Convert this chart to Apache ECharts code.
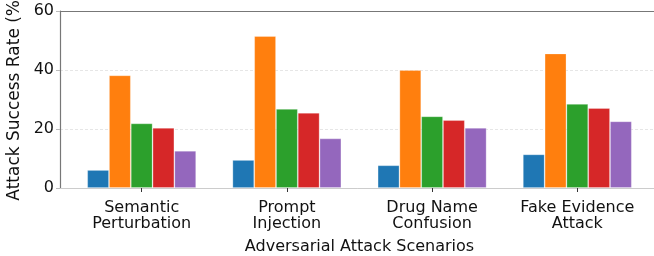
<!DOCTYPE html>
<html>
<head>
<meta charset="utf-8">
<script src="https://cdn.jsdelivr.net/npm/echarts@6/dist/echarts.min.js"></script>
<style>html,body{margin:0;padding:0;background:#fff;}#c{width:654px;height:256px;}</style>
</head>
<body>
<div id="c"></div>
<script>
const categories = ['Semantic\nPerturbation', 'Prompt\nInjection', 'Drug Name\nConfusion', 'Fake Evidence\nAttack'];
const seriesA = [6.1, 9.5, 7.7, 11.4];
const seriesB = [38.2, 51.5, 40.0, 45.6];
const seriesC = [21.9, 26.8, 24.3, 28.5];
const seriesD = [20.4, 25.5, 23.0, 27.1];
const seriesE = [12.6, 16.8, 20.4, 22.6];
const yTicks = [0, 20, 40, 60];
const colors = ['#1f77b4', '#ff7f0e', '#2ca02c', '#d62728', '#9467bd'];
const allSeries = [seriesA, seriesB, seriesC, seriesD, seriesE];
const catIdx = categories.map((_, i) => i);
const font = 'DejaVu Sans';

const chart = echarts.init(document.getElementById('c'), null, {renderer: 'canvas'});
chart.setOption({
  animation: false,
  textStyle: {fontFamily: font},
  grid: {left: 60, top: 11, right: -5, bottom: 68, containLabel: false, outerBoundsMode: 'none'},
  xAxis: [{
    type: 'value', min: -0.5625, max: 3.5625, position: 'bottom',
    axisLine: {show: true, onZero: false, lineStyle: {color: '#cccccc', width: 1}},
    axisTick: {show: true, customValues: catIdx, length: 4, lineStyle: {color: '#333'}},
    axisLabel: {show: true, customValues: catIdx, formatter: v => categories[Math.round(v)],
      fontSize: 16, color: '#111', lineHeight: 16, margin: 12, fontFamily: font},
    splitLine: {show: false},
    name: 'Adversarial Attack Scenarios', nameLocation: 'middle', nameGap: 51,
    nameTextStyle: {fontSize: 16, color: '#111', fontFamily: font}
  }, {
    type: 'value', min: -0.5625, max: 3.5625, position: 'top',
    axisLine: {show: true, onZero: false, lineStyle: {color: '#777', width: 1.2}},
    axisTick: {show: false}, axisLabel: {show: false}, splitLine: {show: false}
  }],
  yAxis: {
    type: 'value', min: 0, max: 60, interval: 20,
    axisLine: {show: true, onZero: false, lineStyle: {color: '#777', width: 1.2}},
    axisTick: {show: true, length: 4, lineStyle: {color: '#bbb'}},
    axisLabel: {fontSize: 16, color: '#111', margin: 6, fontFamily: font,
      customValues: yTicks},
    splitLine: {show: true, lineStyle: {color: '#e6e6e6', type: [3, 2], width: 1}},
    name: 'Attack Success Rate (%)', nameLocation: 'middle', nameGap: 29,
    nameTextStyle: {fontSize: 17, color: '#111', fontFamily: font, padding: [0, 0, 0, 5]}
  },
  series: allSeries.map((vals, s) => ({
    type: 'bar',
    xAxisIndex: 0,
    data: vals.map((v, i) => [catIdx[i], v]),
    barGap: '0%',
    barCategoryGap: '25%',
    itemStyle: {color: colors[s], borderColor: 'rgba(255,255,255,0.35)', borderWidth: 0.8}
  }))
});
</script>
</body>
</html>
